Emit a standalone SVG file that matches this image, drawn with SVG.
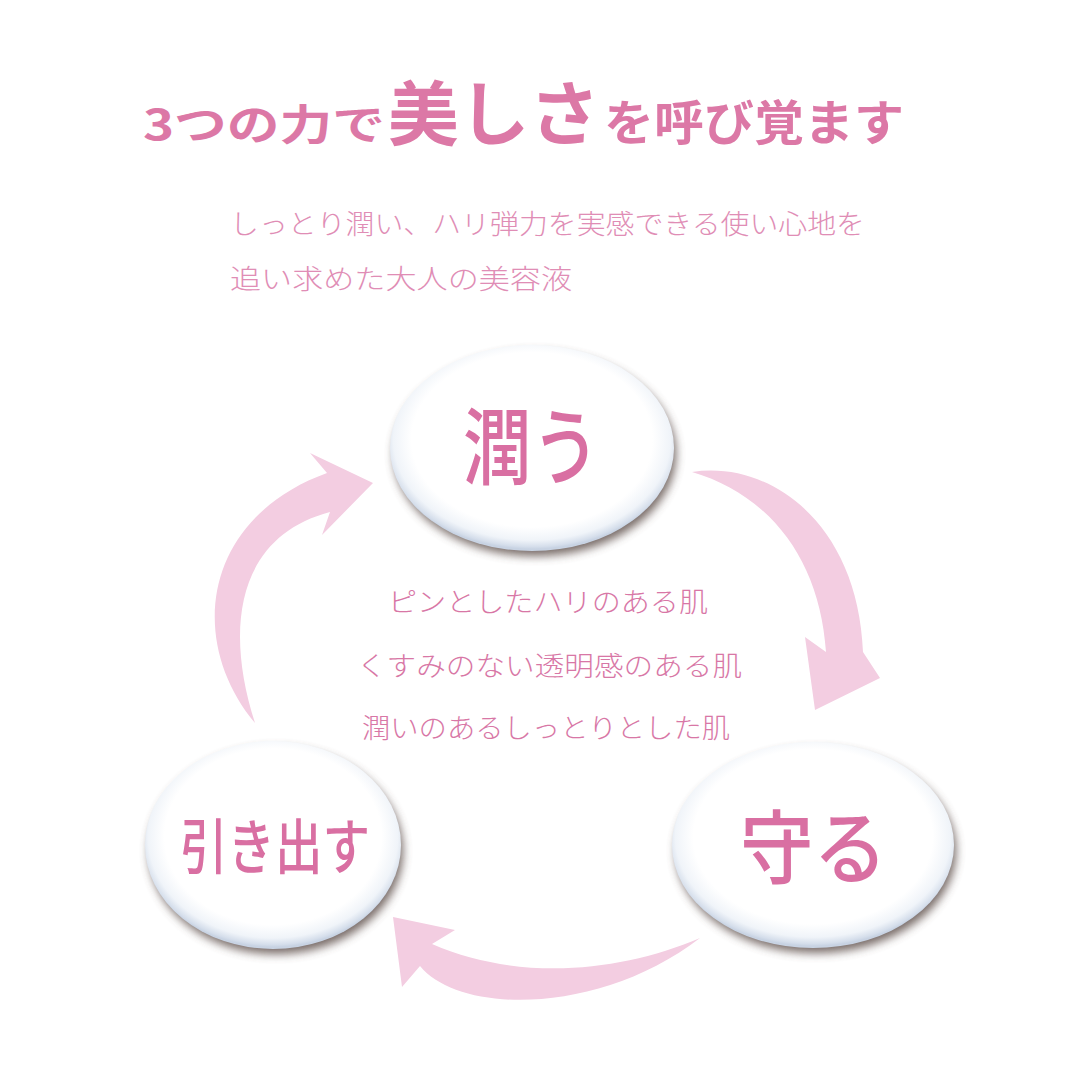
<svg xmlns="http://www.w3.org/2000/svg" width="1080" height="1080" viewBox="0 0 1080 1080">
<style>
.t{font-family:"Noto Sans CJK JP","Noto Sans",sans-serif;fill:#dc78a6}
.title{font-weight:700}
.sub{font-weight:300;fill:#e08db5;font-size:27px}
.mid{font-weight:300;fill:#d877a6;font-size:27px}
.node{font-weight:500;fill:#d96fa2}
.arrow{fill:#f3cde1}
.shadow{fill:#54443f;opacity:0.8}
</style>
<defs>
<radialGradient id="pearl" cx="50%" cy="46%" r="53%">
<stop offset="0" stop-color="#ffffff"/>
<stop offset="0.8" stop-color="#ffffff"/>
<stop offset="0.92" stop-color="#f0f4f9"/>
<stop offset="0.98" stop-color="#d5deeb"/>
<stop offset="1" stop-color="#c8d3e3"/>
</radialGradient>
<filter id="shadow" x="-20%" y="-20%" width="140%" height="150%">
<feGaussianBlur stdDeviation="5"/>
</filter>
</defs>
<rect width="1080" height="1080" fill="#ffffff"/>

<g id="title">
<text class="t title" x="143" y="140" font-size="42" textLength="242" lengthAdjust="spacingAndGlyphs">3つの力で</text>
<text class="t title" x="388" y="140" font-size="70" textLength="212" lengthAdjust="spacingAndGlyphs">美しさ</text>
<text class="t title" x="604" y="140" font-size="48" textLength="300" lengthAdjust="spacingAndGlyphs">を呼び覚ます</text>
</g>

<g id="subtitle">
<text class="t sub" x="230" y="234" textLength="635" lengthAdjust="spacingAndGlyphs">しっとり潤い、ハリ弾力を実感できる使い心地を</text>
<text class="t sub" x="230" y="289" font-size="28" textLength="342" lengthAdjust="spacingAndGlyphs">追い求めた大人の美容液</text>
</g>

<g id="connectors">
<path id="arrow-top-right" class="arrow" d="M692,472 C772,460 858,525 863,652 L880,678 L815,710 L805,637 L826,652 C820,560 770,495 692,472 Z"/>
<path id="arrow-bottom" class="arrow" d="M700,938 C620,972 520,982 432,944 L455,930 L393,917 L402,987 L420,966 C460,1015 600,1015 700,938 Z"/>
<path id="arrow-left" class="arrow" d="M255,723 C186,640 203,518 327,473 L310,453 L373,483 L322,535 L330,512 C242,535 222,620 255,723 Z"/>
</g>

<g id="center-text">
<text class="t mid" x="388" y="612" textLength="320" lengthAdjust="spacingAndGlyphs">ピンとしたハリのある肌</text>
<text class="t mid" x="357" y="676" textLength="385" lengthAdjust="spacingAndGlyphs">くすみのない透明感のある肌</text>
<text class="t mid" x="362" y="738" textLength="368" lengthAdjust="spacingAndGlyphs">潤いのあるしっとりとした肌</text>
</g>

<g id="node-uruou">
<ellipse class="shadow" cx="535" cy="454" rx="141" ry="102" filter="url(#shadow)"/>
<ellipse cx="532" cy="448" rx="142" ry="103" fill="url(#pearl)"/>
<text class="t node" x="463" y="478" font-size="84" textLength="137" lengthAdjust="spacingAndGlyphs">潤う</text>
</g>

<g id="node-hikidasu">
<ellipse class="shadow" cx="276" cy="851" rx="127" ry="103" filter="url(#shadow)"/>
<ellipse cx="273" cy="845" rx="128" ry="104" fill="url(#pearl)"/>
<text class="t node" x="180" y="869" font-size="60" textLength="190" lengthAdjust="spacingAndGlyphs">引き出す</text>
</g>

<g id="node-mamoru">
<ellipse class="shadow" cx="816" cy="851" rx="140" ry="102" filter="url(#shadow)"/>
<ellipse cx="813" cy="845" rx="141" ry="103" fill="url(#pearl)"/>
<text class="t node" x="740" y="877" font-size="80" textLength="147" lengthAdjust="spacingAndGlyphs">守る</text>
</g>
</svg>
